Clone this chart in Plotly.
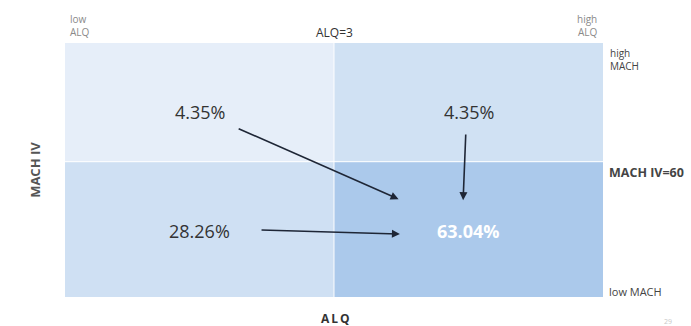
import plotly.graph_objects as go

# ---- data ----
alq_edges = [1, 3, 5]          # ALQ axis: low .. threshold (3) .. high
mach_edges = [20, 60, 95]      # MACH IV axis: low .. threshold (60) .. high
col_names = ["low ALQ", "high ALQ"]
row_names = ["low MACH", "high MACH"]
# percentages per cell, rows bottom->top, cols left->right
cell_values = [["28.26%", "63.04%"],
               ["4.35%", "4.35%"]]
cell_colors = [["#cfe0f3", "#abc9eb"],
               ["#e6eef9", "#d0e1f3"]]
# transitions (from cell (row, col) -> to cell (row, col))
transitions = [((1, 0), (0, 1)), ((1, 1), (0, 1)), ((0, 0), (0, 1))]

fig = go.Figure()

def cx(c):
    return (alq_edges[c] + alq_edges[c + 1]) / 2

def cy(r):
    return (mach_edges[r] + mach_edges[r + 1]) / 2

shapes = []
for r in range(2):
    for c in range(2):
        shapes.append(dict(type="rect", xref="x", yref="y",
                           x0=alq_edges[c], x1=alq_edges[c + 1],
                           y0=mach_edges[r], y1=mach_edges[r + 1],
                           fillcolor=cell_colors[r][c], line=dict(width=0),
                           layer="below"))
# divider lines at thresholds
shapes.append(dict(type="line", xref="x", yref="y", x0=alq_edges[1], x1=alq_edges[1],
                   y0=mach_edges[0], y1=mach_edges[2], line=dict(color="rgba(255,255,255,0.8)", width=1.2)))
shapes.append(dict(type="line", xref="x", yref="y", x0=alq_edges[0], x1=alq_edges[2],
                   y0=mach_edges[1], y1=mach_edges[1], line=dict(color="rgba(255,255,255,0.8)", width=1.2)))

# invisible trace to establish axes
fig.add_trace(go.Scatter(x=[alq_edges[0], alq_edges[-1]], y=[mach_edges[0], mach_edges[-1]],
                         mode="markers", marker=dict(opacity=0), hoverinfo="skip", showlegend=False))

ann = []
label_dy = {0: -0.5, 1: -3.0}
for r in range(2):
    for c in range(2):
        final = (r, c) == (0, 1)
        ann.append(dict(x=cx(c), y=cy(r) + label_dy[r], xref="x", yref="y",
                        text=("<b>%s</b>" % cell_values[r][c]) if final else cell_values[r][c],
                        showarrow=False,
                        font=dict(family="Open Sans", size=18,
                                  color="#ffffff" if final else "#333333")))

# arrow geometry (offsets relative to cell centres)
arrow_geom = {
    ((1, 0), (0, 1)): ((0.28, -7.6), (-0.52, 8.9)),
    ((1, 1), (0, 1)): ((-0.02, -9.1), (-0.04, 8.6)),
    ((0, 0), (0, 1)): ((0.45, -0.2), (-0.51, -1.4)),
}
for frm, to in transitions:
    (tdx, tdy), (hdx, hdy) = arrow_geom[(frm, to)]
    ann.append(dict(x=cx(to[1]) + hdx, y=cy(to[0]) + hdy,
                    ax=cx(frm[1]) + tdx, ay=cy(frm[0]) + tdy,
                    xref="x", yref="y", axref="x", ayref="y",
                    text="", showarrow=True, arrowhead=2, arrowsize=1,
                    arrowwidth=1.6, arrowcolor="#1e2636"))

grey = "#8a8a8a"
dark = "#444444"
ann += [
    dict(x=0.006, y=1.069, xref="paper", yref="paper", xanchor="left", yanchor="middle",
         text="low<br>ALQ", align="left", showarrow=False,
         font=dict(family="Open Sans", size=10, color=grey)),
    dict(x=0.993, y=1.069, xref="paper", yref="paper", xanchor="right", yanchor="middle",
         text="high<br>ALQ", align="right", showarrow=False,
         font=dict(family="Open Sans", size=10, color=grey)),
    dict(x=alq_edges[1], y=1.043, xref="x", yref="paper", xanchor="center", yanchor="middle",
         text="ALQ=3", showarrow=False,
         font=dict(family="Open Sans", size=12, color="#333333")),
    dict(x=1.009, y=0.937, xref="paper", yref="paper", xanchor="left", yanchor="middle",
         text="high<br>MACH", align="left", showarrow=False,
         font=dict(family="Open Sans", size=10, color=dark)),
    dict(x=1.008, y=mach_edges[1] - 3.2, xref="paper", yref="y", xanchor="left", yanchor="middle",
         text="<b>MACH IV=60</b>", showarrow=False,
         font=dict(family="Open Sans", size=12.5, color=dark)),
    dict(x=1.008, y=0.02, xref="paper", yref="paper", xanchor="left", yanchor="middle",
         text="low MACH", showarrow=False,
         font=dict(family="Open Sans", size=11, color=dark)),
    dict(x=-0.056, y=0.5, xref="paper", yref="paper", xanchor="center", yanchor="middle",
         text="<b>MACH IV</b>", textangle=-90, showarrow=False,
         font=dict(family="Open Sans", size=13, color="#555555")),
    dict(x=0.503, y=-0.083, xref="paper", yref="paper", xanchor="center", yanchor="middle",
         text="<b>A\u2009L\u2009Q</b>", showarrow=False,
         font=dict(family="Open Sans", size=12, color="#333333")),
    dict(x=1.12, y=-0.095, xref="paper", yref="paper", xanchor="center", yanchor="middle",
         text="29", showarrow=False,
         font=dict(family="Open Sans", size=7, color="#c8c8c8")),
]

fig.update_layout(
    width=691, height=326,
    margin=dict(l=65, r=88, t=43, b=29),
    paper_bgcolor="white", plot_bgcolor="white",
    xaxis=dict(range=[alq_edges[0], alq_edges[-1]], visible=False, fixedrange=True),
    yaxis=dict(range=[mach_edges[0], mach_edges[-1]], visible=False, fixedrange=True),
    shapes=shapes, annotations=ann, showlegend=False,
)

fig.write_html("out.html")
